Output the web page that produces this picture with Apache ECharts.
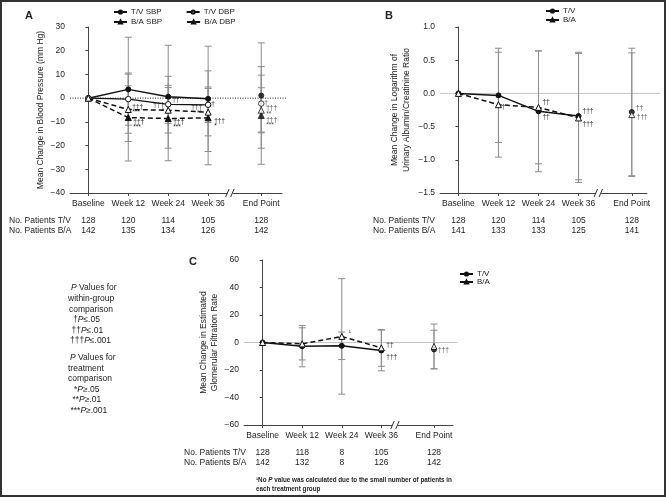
<!DOCTYPE html>
<html><head><meta charset="utf-8">
<script src="https://cdn.jsdelivr.net/npm/echarts@6/dist/echarts.min.js"></script>
<style>html,body{margin:0;padding:0;background:#fff}#c{width:666px;height:498px}</style>
</head><body><div id="c"></div>
<script>
// ---------- data ----------
const categories = ['Baseline', 'Week 12', 'Week 24', 'Week 36', 'End Point'];
const catPos = [0, 1, 2, 3, 4.33];

// Panel A: blood pressure (mm Hg)
const tvSbp = [0, 3.7, 0.6, -0.3, 1.1];
const tvSbpSd = [0, 22, 21.7, 22.2, 22.2];
const tvDbp = [0, -0.4, -2.6, -2.8, -2.3];
const tvDbpSd = [0, 11, 8, 7.5, 12];
const baSbp = [0, -8.2, -8.6, -8.3, -7.3];
const baSbpSd = [0, 18.3, 17.8, 19.8, 20.6];
const baDbp = [0, -4.8, -5.1, -5.9, -5.1];
const baDbpSd = [0, 10, 9.6, 10, 9.5];
const patientsA_TV = [128, 120, 114, 105, 128];
const patientsA_BA = [142, 135, 134, 126, 142];
const annA_tvSbp = ['', '', '', '', ''];
const annA_tvDbp = ['', '', '††', '†', '†'];
const annA_baSbp = ['', '†††\n***', '†††\n***', '†††\n*', '†††\n***'];
const annA_baDbp = ['', '†††\n***', '†††\n*', '†††\n**', '†††\n**'];

// Panel B: log urinary albumin/creatinine ratio
const tvB = [0, -0.03, -0.27, -0.34, -0.28];
const tvBSd = [0, 0.71, 0.91, 0.96, 0.96];
const baB = [0, -0.17, -0.21, -0.37, -0.32];
const baBSd = [0, 0.79, 0.85, 0.97, 0.93];
const patientsB_TV = [128, 120, 114, 105, 128];
const patientsB_BA = [141, 133, 133, 125, 141];
const annB_tv = ['', '', '††', '†††', '††'];
const annB_ba = ['', '†', '††', '†††', '†††'];

// Panel C: estimated GFR
const tvC = [0, -2.7, -2.4, -5.8, -5.1];
const tvCSd = [0, 15, 10, 14.8, 14];
const baC = [0, -1.0, 4.4, -3.9, -2.9];
const baCSd = [0, 11.7, 42, 13.4, 16.3];
const patientsC_TV = [128, 118, 8, 105, 128];
const patientsC_BA = [142, 132, 8, 126, 142];
const annC_tv = ['', '', '', '†††', '†††'];
const annC_ba = ['', '', '¹', '††', ''];

// ---------- annotation placement (pixel offsets from the point) ----------
const place = {
  A_tvSbp: [[0,0],[0,0],[0,0],[0,0],[0,0]],
  A_tvDbp: [[0,0],[0,0],[4,-4],[3,-1],[3,0]],
  A_baSbp: [[0,0],[5,7],[5,6],[6,6],[5,7]],
  A_baDbp: [[0,0],[4,0],[-4,-2],[-6,-2],[5,1]],
  B_tv: [[0,0],[0,0],[4,6],[4,-5],[4,-4]],
  B_ba: [[0,0],[3,3],[4,-5],[4,6],[5,3]],
  C_tv: [[0,0],[0,0],[0,0],[5,7],[4,1]],
  C_ba: [[0,0],[0,0],[7,-4],[5,-3],[0,0]]
};

const FONT = 'Liberation Sans, Arial, Helvetica, sans-serif';
const INK = '#111';
const AXIS = '#444';
const ERR = '#8c8c8c';
const minus = v => (v < 0 ? '\u2212' : '') + Math.abs(v);

function pts(vals, idxs, ann, pl) {
  return idxs.map(i => {
    const item = { value: [catPos[i], vals[i]] };
    if (ann && ann[i]) {
      const d = pl[i];
      item.label = {
        show: true, formatter: ann[i], position: 'inside', offset: d,
        align: d[0] < 0 ? 'right' : 'left', verticalAlign: 'middle',
        fontSize: 6.5, lineHeight: 5.5, color: '#222', fontFamily: FONT
      };
    }
    return item;
  });
}

function lineSeries(name, vals, ann, pl, axis, st) {
  const common = {
    name, xAxisIndex: axis, yAxisIndex: axis, symbol: st.symbol, symbolSize: st.size,
    itemStyle: { color: st.fill, borderColor: INK, borderWidth: 1 },
    silent: true, animation: false, z: 3, clip: false
  };
  return [
    Object.assign({}, common, {
      type: 'line', data: pts(vals, [0, 1, 2, 3], ann, pl),
      lineStyle: { color: INK, width: st.width, type: st.dash ? [5, 3] : 'solid' },
      label: { show: false }
    }),
    Object.assign({}, common, {
      type: 'scatter', data: pts(vals, [4], ann, pl), label: { show: false }
    })
  ];
}

function errorSeries(means, sds, axis) {
  const data = [];
  means.forEach((m, i) => { if (sds[i] > 0) data.push([catPos[i], m - sds[i], m + sds[i]]); });
  return {
    type: 'custom', xAxisIndex: axis, yAxisIndex: axis, z: 1, silent: true, animation: false,
    data, encode: { x: 0, y: [1, 2] },
    renderItem(p, api) {
      const x = api.value(0);
      const lo = api.coord([x, api.value(1)]);
      const hi = api.coord([x, api.value(2)]);
      const w = 3.5, style = { stroke: ERR, lineWidth: 1 };
      return { type: 'group', children: [
        { type: 'line', shape: { x1: lo[0], y1: lo[1], x2: hi[0], y2: hi[1] }, style },
        { type: 'line', shape: { x1: lo[0] - w, y1: lo[1], x2: lo[0] + w, y2: lo[1] }, style },
        { type: 'line', shape: { x1: hi[0] - w, y1: hi[1], x2: hi[0] + w, y2: hi[1] }, style }
      ]};
    }
  };
}

function zeroLine(axis, x0, x1, color, dotted) {
  return {
    type: 'custom', xAxisIndex: axis, yAxisIndex: axis, z: 0, silent: true, animation: false,
    data: [[x0, 0, x1]],
    renderItem(p, api) {
      const a = api.coord([api.value(0), api.value(1)]);
      const b = api.coord([api.value(2), api.value(1)]);
      return { type: 'line', shape: { x1: a[0], y1: a[1], x2: b[0], y2: b[1] },
        style: { stroke: color, lineWidth: 1, lineDash: dotted ? [1, 1.5] : null } };
    }
  };
}

function breakMark(axis, xv, yv) {
  return {
    type: 'custom', xAxisIndex: axis, yAxisIndex: axis, z: 10, silent: true, animation: false,
    data: [[xv, yv]],
    renderItem(p, api) {
      const c = api.coord([api.value(0), api.value(1)]);
      const s = { stroke: '#333', lineWidth: 1 };
      return { type: 'group', children: [
        { type: 'rect', shape: { x: c[0] - 2.5, y: c[1] - 1.5, width: 5, height: 3 }, style: { fill: '#fff' } },
        { type: 'line', shape: { x1: c[0] - 4.5, y1: c[1] + 4, x2: c[0] - 1, y2: c[1] - 4 }, style: s },
        { type: 'line', shape: { x1: c[0] + 0.5, y1: c[1] + 4, x2: c[0] + 4, y2: c[1] - 4 }, style: s }
      ]};
    }
  };
}

const idxOf = v => catPos.findIndex(p => Math.abs(p - v) < 1e-6);

function xAxesFor(grid, min, max, counts) {
  const base = {
    type: 'value', gridIndex: grid, min, max, splitLine: { show: false }, position: 'bottom'
  };
  const axes = [Object.assign({}, base, {
    axisLine: { show: true, onZero: false, lineStyle: { color: AXIS, width: 1 } },
    axisTick: { show: true, customValues: catPos, length: 3, lineStyle: { color: AXIS } },
    axisLabel: { show: true, customValues: catPos, margin: 6.5, fontSize: 8.5, color: '#222', fontFamily: FONT,
      formatter: v => categories[idxOf(v)] }
  })];
  counts.forEach((arr, k) => {
    axes.push(Object.assign({}, base, {
      offset: 18.5 + 10 * k,
      axisLine: { show: false }, axisTick: { show: false },
      axisLabel: { show: true, customValues: catPos, margin: 5, fontSize: 8.5, color: '#222', fontFamily: FONT,
        formatter: v => String(arr[idxOf(v)]) }
    }));
  });
  return axes;
}

function yAxisFor(grid, min, max, interval, name, gap, fmt) {
  return {
    type: 'value', gridIndex: grid, min, max, interval,
    splitLine: { show: false },
    axisLine: { show: true, lineStyle: { color: AXIS, width: 1 } },
    axisTick: { show: true, length: 3, lineStyle: { color: AXIS } },
    axisLabel: { margin: 5, fontSize: 8.5, color: '#222', fontFamily: FONT, formatter: fmt },
    name, nameLocation: 'middle', nameGap: gap,
    nameTextStyle: { fontSize: 8.5, color: '#222', fontFamily: FONT, lineHeight: 11.5 }
  };
}

const xA = xAxesFor(0, -0.46, 4.85, [patientsA_TV, patientsA_BA]);
const xB = xAxesFor(1, -0.46, 4.71, [patientsB_TV, patientsB_BA]);
const xC = xAxesFor(2, -0.47, 4.81, [patientsC_TV, patientsC_BA]);
const xAxis = [xA[0], xB[0], xC[0], xA[1], xA[2], xB[1], xB[2], xC[1], xC[2]];

const yAxis = [
  yAxisFor(0, -40, 30, 10, 'Mean Change in Blood Pressure (mm Hg)', 24, v => minus(v)),
  yAxisFor(1, -1.5, 1, 0.5, 'Mean Change in Logarithm of\nUrinary Albumin/Creatinine Ratio', 28,
    v => (v < 0 ? '\u2212' : '') + Math.abs(v).toFixed(1)),
  yAxisFor(2, -60, 60, 20, 'Mean Change in Estimated\nGlomerular Filtration Rate', 20, v => minus(v))
];

const stTvS = { symbol: 'circle', size: 5, fill: INK, width: 1.5, dash: false };
const stTvD = { symbol: 'circle', size: 5.5, fill: '#fff', width: 1.2, dash: false };
const stBaS = { symbol: 'triangle', size: 6, fill: INK, width: 1.5, dash: true };
const stBaD = { symbol: 'triangle', size: 6, fill: '#fff', width: 1.5, dash: true };

const series = [
  zeroLine(0, -0.46, 4.97, '#222', true),
  zeroLine(1, -0.46, 5.04, '#c4c4c4', false),
  zeroLine(2, -0.47, 4.92, '#c4c4c4', false),
  errorSeries(tvSbp, tvSbpSd, 0), errorSeries(tvDbp, tvDbpSd, 0),
  errorSeries(baSbp, baSbpSd, 0), errorSeries(baDbp, baDbpSd, 0),
  errorSeries(tvB, tvBSd, 1), errorSeries(baB, baBSd, 1),
  errorSeries(tvC, tvCSd, 2), errorSeries(baC, baCSd, 2),
  ...lineSeries('T/V SBP', tvSbp, annA_tvSbp, place.A_tvSbp, 0, stTvS),
  ...lineSeries('T/V DBP', tvDbp, annA_tvDbp, place.A_tvDbp, 0, stTvD),
  ...lineSeries('B/A SBP', baSbp, annA_baSbp, place.A_baSbp, 0, stBaS),
  ...lineSeries('B/A DBP', baDbp, annA_baDbp, place.A_baDbp, 0, stBaD),
  ...lineSeries('T/V', tvB, annB_tv, place.B_tv, 1, stTvS),
  ...lineSeries('B/A', baB, annB_ba, place.B_ba, 1, stBaD),
  ...lineSeries('T/V', tvC, annC_tv, place.C_tv, 2, stTvS),
  ...lineSeries('B/A', baC, annC_ba, place.C_ba, 2, stBaD),
  breakMark(0, 3.55, -40),
  breakMark(1, 3.5, -1.5),
  breakMark(2, 3.35, -60)
];

const legendBase = {
  itemWidth: 13, itemHeight: 4, itemGap: 24, selectedMode: false,
  textStyle: { fontSize: 8, color: '#222', fontFamily: FONT, padding: [0, 0, 0, -1] }, padding: 0
};
const legend = [
  Object.assign({}, legendBase, { left: 113, top: 8, data: ['T/V SBP', 'T/V DBP'] }),
  Object.assign({}, legendBase, { left: 113, top: 18, data: ['B/A SBP', 'B/A DBP'] }),
  Object.assign({}, legendBase, { left: 545, top: 7, orient: 'vertical', itemGap: 1, data: ['T/V', 'B/A'] }),
  Object.assign({}, legendBase, { left: 459, top: 270, orient: 'vertical', itemGap: 0, data: ['T/V', 'B/A'] })
];

function txt(x, y, text, extra) {
  return { type: 'text', x, y, silent: true,
    style: Object.assign({ text, fontSize: 8.5, fill: '#222', fontFamily: FONT, verticalAlign: 'middle' }, extra || {}) };
}
const rich = { i: { fontStyle: 'italic', fontSize: 8.5, fontFamily: FONT, fill: '#222' } };
const pLines = [
  [71, '{i|P} Values for'], [68, 'within-group'], [69, 'comparison'],
  [73, '†{i|P}≤.05'], [71.5, '††{i|P}≤.01'], [70, '†††{i|P}≤.001'],
  null,
  [70, '{i|P} Values for'], [68, 'treatment'], [68, 'comparison'],
  [74, '*{i|P}≥.05'], [72.5, '**{i|P}≥.01'], [70.5, '***{i|P}≥.001']
];
const graphic = [
  { type: 'rect', silent: true, shape: { x: 1, y: 1, width: 664, height: 495 }, style: { fill: 'none', stroke: '#333', lineWidth: 2 } },
  txt(29, 16, 'A', { fontSize: 11, fontWeight: 'bold', align: 'center' }),
  txt(389, 16, 'B', { fontSize: 11, fontWeight: 'bold', align: 'center' }),
  txt(193, 262, 'C', { fontSize: 11, fontWeight: 'bold', align: 'center' }),
  txt(9, 221, 'No. Patients T/V'), txt(9, 231, 'No. Patients B/A'),
  txt(373, 221, 'No. Patients T/V'), txt(373, 231, 'No. Patients B/A'),
  txt(184, 453, 'No. Patients T/V'), txt(184, 463, 'No. Patients B/A'),
  txt(256, 480, '¹No {i|P} value was calculated due to the small number of patients in',
    { fontSize: 6.3, fontWeight: 'bold', rich: { i: { fontStyle: 'italic', fontWeight: 'bold', fontSize: 6.3, fontFamily: FONT, fill: '#222' } } }),
  txt(256, 489, 'each treatment group', { fontSize: 6.3, fontWeight: 'bold' })
];
let py = 288;
pLines.forEach(l => {
  if (l) graphic.push(txt(l[0], py, l[1], { rich }));
  py += l ? 10.6 : 6;
});

const option = {
  animation: false,
  backgroundColor: '#fff',
  textStyle: { fontFamily: FONT },
  grid: [
    { left: 70, top: 27, width: 212, height: 166 },
    { left: 440, top: 27, width: 207, height: 166 },
    { left: 244, top: 260, width: 209, height: 165 }
  ],
  xAxis, yAxis, series, legend, graphic
};

const chart = echarts.init(document.getElementById('c'), null, { renderer: 'canvas' });
chart.setOption(option);
</script>
</body></html>
